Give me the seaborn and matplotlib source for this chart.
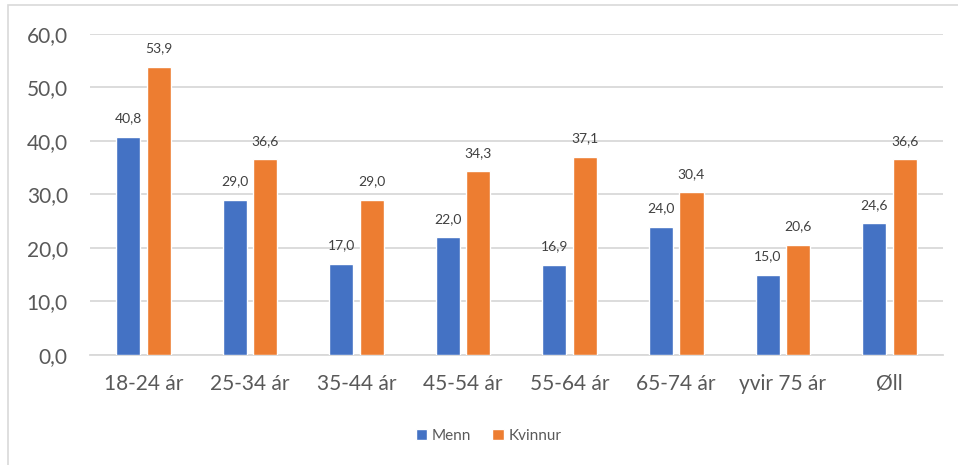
import matplotlib
matplotlib.use("Agg")
import matplotlib.pyplot as plt
from matplotlib.patches import Rectangle
import seaborn as sns
import pandas as pd

# Age groups and shares per gender
categories = ["18-24 ár", "25-34 ár", "35-44 ár", "45-54 ár", "55-64 ár", "65-74 ár", "yvir 75 ár", "Øll"]
menn = [40.8, 29.0, 17.0, 22.0, 16.9, 24.0, 15.0, 24.6]
kvinnur = [53.9, 36.6, 29.0, 34.3, 37.1, 30.4, 20.6, 36.6]
series_names = ["Menn", "Kvinnur"]
y_ticks = [0, 10, 20, 30, 40, 50, 60]

df = pd.DataFrame({
    "bólkur": categories * 2,
    "virði": menn + kvinnur,
    "kyn": [series_names[0]] * len(categories) + [series_names[1]] * len(categories),
})

sns.set_theme(style="white")
plt.rcParams["font.family"] = ["Lato", "DejaVu Sans"]

fig = plt.figure(figsize=(9.58, 4.65), dpi=100)
ax = fig.add_axes([0.094, 0.2366, 0.890, 0.6903])

palette = {"Menn": "#4472C4", "Kvinnur": "#ED7D31"}
sns.barplot(data=df, x="bólkur", y="virði", hue="kyn", palette=palette,
            width=0.572, gap=0.21, saturation=1, ax=ax, legend=True,
            errorbar=None, zorder=3)

for cont in ax.containers:
    ax.bar_label(cont, labels=[f"{v:.1f}".replace(".", ",") for v in cont.datavalues],
                 padding=9, fontsize=10, color="#404040")

ax.set_ylim(0, 60)
ax.set_yticks(y_ticks)
ax.set_yticklabels([f"{v:.1f}".replace(".", ",") for v in y_ticks])
ax.set_xlim(-0.5, len(categories) - 0.5)
ax.set_xlabel("")
ax.set_ylabel("")
ax.yaxis.grid(True, color="#d9d9d9", linewidth=1.3, zorder=0)
ax.set_axisbelow(True)
for side in ["top", "right", "left"]:
    ax.spines[side].set_visible(False)
ax.spines["bottom"].set_color("#d9d9d9")
ax.spines["bottom"].set_linewidth(1.3)
ax.tick_params(axis="y", length=0, pad=16, labelsize=15, labelcolor="#595959")
ax.tick_params(axis="x", length=0, pad=14, labelsize=15, labelcolor="#595959")

ax.legend(loc="center", ncol=2, frameon=False, fontsize=11, handlelength=0.75,
          handleheight=0.75, handletextpad=0.3, columnspacing=1.4, labelcolor="#595959")
leg = ax.get_legend()
leg.set_bbox_to_anchor((0.51, 1 - 436 / 465), transform=fig.transFigure)

# Outer chart frame
fig.patches.append(Rectangle((8 / 958, -0.02), 1.0, 1 - 5 / 465 + 0.02,
                             transform=fig.transFigure, fill=False,
                             edgecolor="#d9d9d9", linewidth=1.2))

fig.savefig("out.png", dpi=100)
